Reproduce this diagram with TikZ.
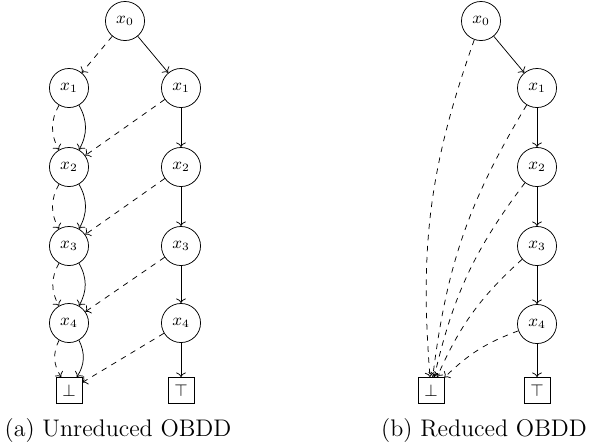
\documentclass[tikz,border=0pt]{standalone}
\usetikzlibrary{arrows.meta}
\begin{document}
\begin{tikzpicture}[x=0.5376pt,y=-0.5376pt,>={To},
  var/.style={circle,draw,minimum size=21pt,inner sep=0pt,font=\small},
  term/.style={rectangle,draw,minimum size=14pt,inner sep=0pt,font=\small},
  caption/.style={anchor=base,font=\fontsize{12.9}{15}\selectfont},
  hi/.style={->},
  lo/.style={->,dashed}]
\useasboundingbox (0,0) rectangle (594,445);

% (a) unreduced diagram
\node[var] (a0) at (125,21) {$x_0$};
\node[var] (aL1) at (69,88)  {$x_1$};
\node[var] (aR1) at (181,88) {$x_1$};
\node[var] (aL2) at (69,167)  {$x_2$};
\node[var] (aR2) at (181,167) {$x_2$};
\node[var] (aL3) at (69,246)  {$x_3$};
\node[var] (aR3) at (181,246) {$x_3$};
\node[var] (aL4) at (69,323)  {$x_4$};
\node[var] (aR4) at (181,323) {$x_4$};
\node[term] (abot) at (69,390.5)  {$\bot$};
\node[term] (atop) at (181,390.5) {$\top$};

\draw[lo] (a0) -- (aL1);
\draw[hi] (a0) -- (aR1);
\foreach \i/\j in {1/2,2/3,3/4}{
  \draw[lo,bend right=30] (aL\i) to (aL\j);
  \draw[hi,bend left=30]  (aL\i) to (aL\j);
  \draw[lo] (aR\i) -- (aL\j);
  \draw[hi] (aR\i) -- (aR\j);
}
\draw[lo,bend right=30] (aL4) to (abot);
\draw[hi,bend left=30]  (aL4) to (abot);
\draw[lo] (aR4) -- (abot);
\draw[hi] (aR4) -- (atop);

\node[caption] (capa) at (118,436.5) {(a) Unreduced OBDD};

% (b) reduced diagram
\node[var] (b0) at (481,21)  {$x_0$};
\node[var] (b1) at (537,88)  {$x_1$};
\node[var] (b2) at (537,167) {$x_2$};
\node[var] (b3) at (537,246) {$x_3$};
\node[var] (b4) at (537,324) {$x_4$};
\node[term] (bbot) at (431,390.5) {$\bot$};
\node[term] (btop) at (537,390.5) {$\top$};

\foreach \i/\j in {0/1,1/2,2/3,3/4}{
  \draw[hi] (b\i) -- (b\j);
}
\draw[hi] (b4) -- (btop);
\foreach \i in {0,...,4}{
  \draw[lo,bend right=12] (b\i) to (bbot);
}

\node[caption] (capb) at (484,436.5) {(b) Reduced OBDD};
\end{tikzpicture}
\end{document}
